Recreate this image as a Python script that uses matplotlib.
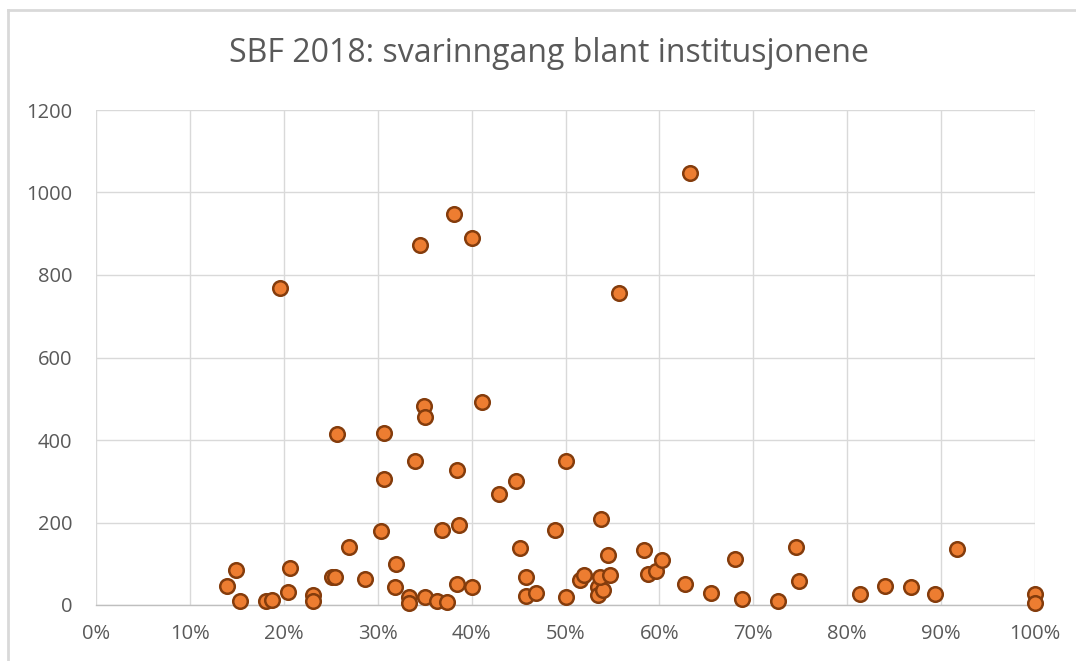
import matplotlib
matplotlib.use("Agg")
import matplotlib.pyplot as plt
from matplotlib.lines import Line2D
from matplotlib.ticker import FuncFormatter

# Response rate (%) per institution
svarprosent = [13.95, 14.9, 15.3, 18.1, 18.7, 19.6, 20.4, 20.7, 23.1, 23.1,
               25.1, 25.4, 25.7, 26.9, 28.7, 30.3, 30.7, 30.7, 31.9, 31.8,
               33.3, 33.3, 34.0, 34.5, 34.9, 35.0, 35.0, 36.3, 36.9, 37.4,
               38.1, 38.4, 38.4, 38.7, 40.0, 40.0, 41.1, 42.9, 44.7, 45.2,
               45.8, 45.8, 46.9, 48.9, 50.0, 50.0, 51.5, 52.0, 53.5, 53.5,
               54.0, 53.7, 53.8, 54.5, 54.7, 55.7, 58.4, 58.8, 59.6, 60.3,
               62.7, 63.3, 65.5, 68.1, 68.8, 72.6, 74.5, 74.9, 81.4, 84.0,
               86.8, 89.3, 91.7, 100.0, 100.0]
# Number of respondents per institution
antall = [46, 85, 10, 10, 12, 768, 31, 89, 24, 10,
          67, 67, 414, 141, 64, 179, 418, 305, 99, 43,
          20, 6, 349, 873, 483, 455, 19, 10, 182, 7,
          948, 327, 51, 195, 890, 44, 493, 269, 301, 137,
          69, 22, 28, 181, 20, 349, 61, 73, 43, 24,
          36, 67, 209, 122, 73, 756, 134, 74, 82, 109,
          51, 1047, 28, 112, 14, 10, 141, 57, 26, 47,
          44, 26, 135, 27, 4]

title = "SBF 2018: svarinngang blant institusjonene"
x_ticks = [0, 10, 20, 30, 40, 50, 60, 70, 80, 90, 100]
y_ticks = [0, 200, 400, 600, 800, 1000, 1200]

W, H = 1076, 661
fig = plt.figure(figsize=(W / 100, H / 100), dpi=100)
plt.rcParams['font.family'] = ['Open Sans', 'DejaVu Sans']

# chart-area frame (top and left edges visible)
grey = "#D9D9D9"
fig.add_artist(Line2D([8 / W, 8 / W], [0, 1 - 10 / H], transform=fig.transFigure,
                      color=grey, lw=2))
fig.add_artist(Line2D([8 / W, 1], [1 - 10 / H, 1 - 10 / H], transform=fig.transFigure,
                      color=grey, lw=2))

ax = fig.add_axes([96 / W, (H - 605) / H, (1035 - 96) / W, (605 - 110) / H])
ax.set_xlim(0, 100)
ax.set_ylim(0, 1200)
ax.set_xticks(x_ticks)
ax.set_yticks(y_ticks)
ax.xaxis.set_major_formatter(FuncFormatter(lambda v, p: f"{int(v)}%"))
ax.grid(True, color=grey, lw=1)
ax.set_axisbelow(True)
for s in ["top", "right", "left"]:
    ax.spines[s].set_visible(False)
ax.spines["bottom"].set_color("#BFBFBF")
ax.spines["bottom"].set_linewidth(1)
ax.tick_params(length=0, colors="#595959", labelsize=14.5)
ax.tick_params(axis="y", pad=17)
ax.tick_params(axis="x", pad=14)

ax.scatter(svarprosent, antall, s=110, facecolor="#ED7D31", edgecolor="#843C0C",
           linewidths=1.8, zorder=3, clip_on=False)

fig.text(549 / W, 1 - 53 / H, title, ha="center", va="center",
         fontsize=23, color="#595959")

fig.savefig("out.png", dpi=100)
